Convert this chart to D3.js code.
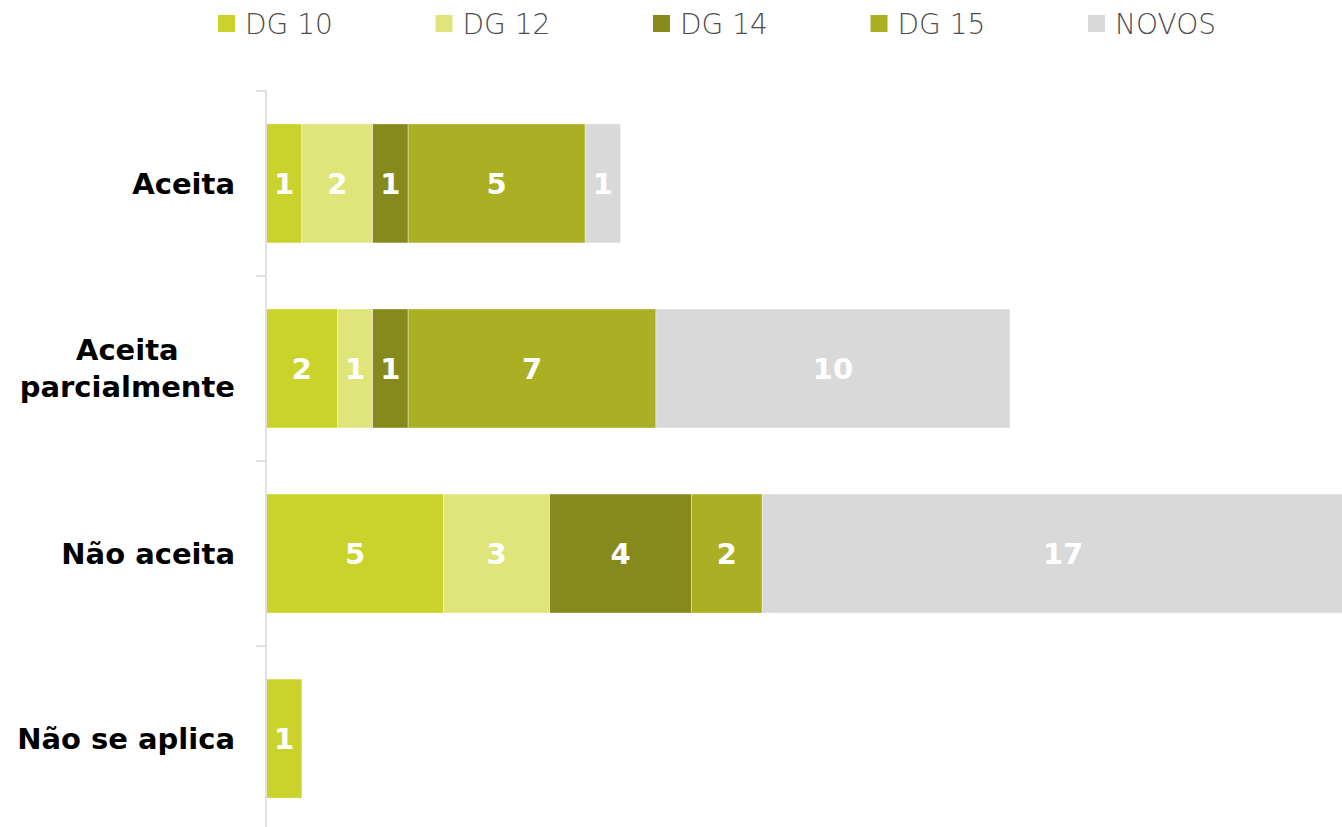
<!DOCTYPE html>
<html>
<head>
<meta charset="utf-8">
<script src="https://cdn.jsdelivr.net/npm/d3@7"></script>
<style>
  html, body { margin: 0; padding: 0; background: #fff; overflow: hidden; }
</style>
</head>
<body>
<div id="chart"></div>
<script>
const categories = ["Aceita", "Aceita parcialmente", "Não aceita", "Não se aplica"]
const seriesNames = ["DG 10", "DG 12", "DG 14", "DG 15", "NOVOS"]
const dg10 = [1, 2, 5, 1]
const dg12 = [2, 1, 3, 0]
const dg14 = [1, 1, 4, 0]
const dg15 = [5, 7, 2, 0]
const novos = [1, 10, 17, 0]
const colors = ["#cad32b", "#e0e57b", "#868a1c", "#aaaf24", "#d9d9d9"]

const W = 1342, H = 827
const rows = categories.map((c, i) => ({
  cat: c,
  "DG 10": dg10[i], "DG 12": dg12[i], "DG 14": dg14[i], "DG 15": dg15[i], "NOVOS": novos[i]
}))

const svg = d3.select("#chart").append("svg")
  .attr("width", W)
  .attr("height", H)

const stack = d3.stack().keys(seriesNames)(rows)

const x = d3.scaleLinear()
  .domain([0, 31])
  .range([266.5, 1364])

const y = d3.scaleBand()
  .domain(categories)
  .range([91, 831])
  .paddingInner(0.357)
  .paddingOuter(0.178)

const color = d3.scaleOrdinal().domain(seriesNames).range(colors)

// bars
const layer = svg.append("g")
  .selectAll("g")
  .data(stack)
  .join("g")
  .attr("fill", d => color(d.key))

layer.selectAll("rect")
  .data(d => d.map(s => ({ s, key: d.key })))
  .join("rect")
  .attr("x", d => x(d.s[0]))
  .attr("y", d => y(d.s.data.cat))
  .attr("width", d => x(d.s[1]) - x(d.s[0]))
  .attr("height", y.bandwidth())
  .attr("stroke", "#fff")
  .attr("stroke-width", 0.6)
  .attr("stroke-opacity", 0.6)

layer.selectAll("text")
  .data(d => d.filter(s => s[1] - s[0] > 0))
  .join("text")
  .attr("x", d => (x(d[0]) + x(d[1])) / 2)
  .attr("y", d => y(d.data.cat) + y.bandwidth() / 2)
  .attr("dy", "0.36em")
  .attr("text-anchor", "middle")
  .attr("fill", "#fff")
  .style("font-family", "DejaVu Sans")
  .style("font-weight", 700)
  .style("font-size", "29px")
  .text(d => d[1] - d[0])

// axis
const band = y.step()
const ticks = d3.range(categories.length + 1).map(i => 91 + i * band)
const axis = svg.append("g")
axis.append("line")
  .attr("x1", 266).attr("x2", 266)
  .attr("y1", 91).attr("y2", 831)
  .attr("stroke", "#d9d9d9").attr("stroke-width", 1.5)
axis.selectAll(".tick")
  .data(ticks)
  .join("line")
  .attr("x1", 256).attr("x2", 266)
  .attr("y1", d => d).attr("y2", d => d)
  .attr("stroke", "#d9d9d9").attr("stroke-width", 1.5)

// category labels: block right-aligned, lines centered
const lines = { "Aceita parcialmente": ["Aceita", "parcialmente"] }
const labels = svg.append("g")
  .style("font-family", "DejaVu Sans")
  .style("font-weight", 700)
  .style("font-size", "29px")
  .attr("fill", "#000")

categories.forEach(c => {
  const ls = lines[c] || [c]
  const cy = y(c) + y.bandwidth() / 2
  const g = labels.append("g")
  const t = g.append("text").attr("text-anchor", "middle")
  ls.forEach((l, i) => {
    t.append("tspan")
      .attr("x", 0)
      .attr("y", cy + (i - (ls.length - 1) / 2) * 37)
      .attr("dy", "0.36em")
      .text(l)
  })
  const w = t.node().getBBox().width
  g.attr("transform", `translate(${235 - w / 2},0)`)
})

// legend
const legend = svg.append("g")
  .selectAll("g")
  .data(seriesNames)
  .join("g")
  .attr("transform", (d, i) => `translate(${218 + i * 217.5},0)`)

legend.append("rect")
  .attr("x", 0).attr("y", 15)
  .attr("width", 17).attr("height", 17)
  .attr("fill", d => color(d))

legend.append("text")
  .attr("x", 27).attr("y", 23.5)
  .attr("dy", "0.36em")
  .attr("fill", "#4d4d4d")
  .style("font-family", "DejaVu Sans")
  .style("font-weight", 200)
  .style("font-size", "28px")
  .text(d => d)
</script>
</body>
</html>
